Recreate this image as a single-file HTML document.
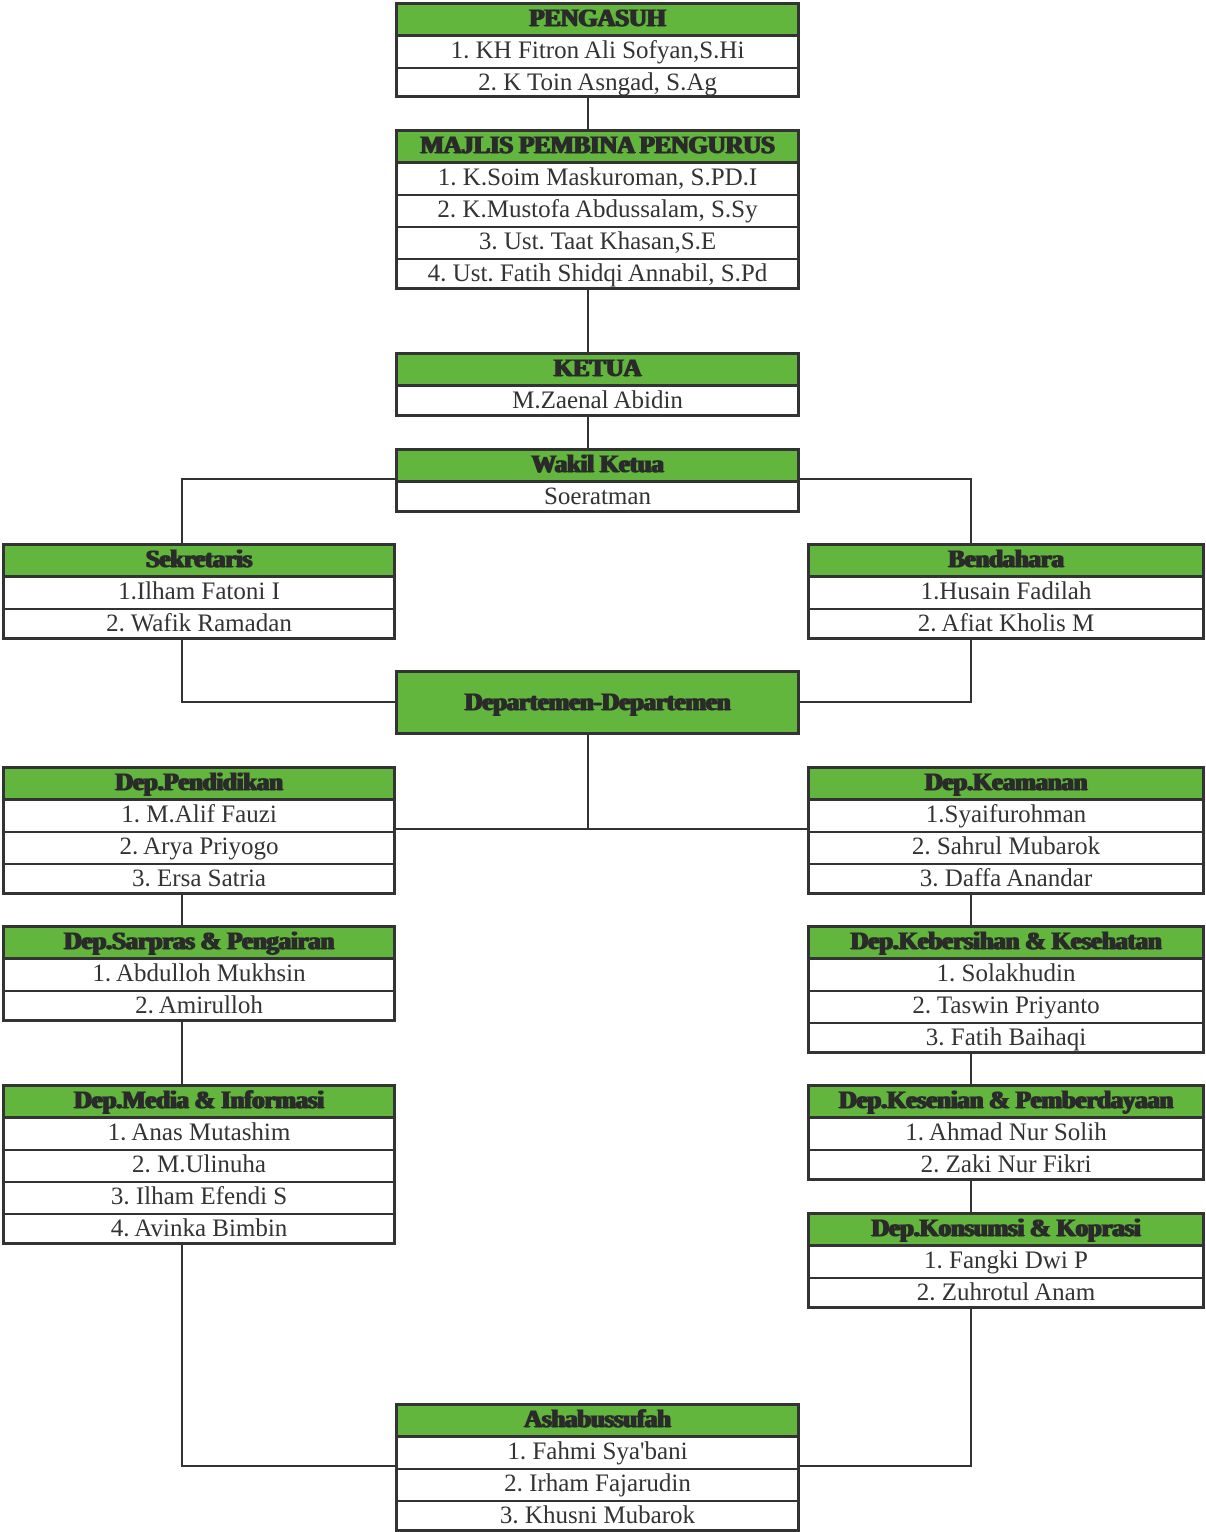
<!DOCTYPE html>
<html><head><meta charset="utf-8"><style>
body{margin:0;width:1206px;height:1532px;background:#fff;position:relative;overflow:hidden;font-family:"Liberation Serif",serif;}
.b{position:absolute;border:3px solid #333;box-sizing:border-box;background:#fff;}
.b div{height:32px;line-height:28px;text-align:center;font-size:25px;color:#333;border-top:2px solid #333;box-sizing:border-box;white-space:nowrap;overflow:hidden;}
.b div:first-child{border-top:none;height:30px;line-height:28px;}
.b div.h{background:#62b63e;font-weight:bold;color:#2a2a2a;font-size:25px;letter-spacing:-0.3px;text-shadow:1px 0 #2a2a2a,-1px 0 #2a2a2a,0 0.6px #2a2a2a;border-bottom:1px solid #333;}
.l{position:absolute;background:#333;}
.v{width:2px}.hz{height:2px}
.c{left:395px;width:405px}.L{left:2px;width:394px}.R{left:807px;width:398px}
</style></head><body>
<div class="l v" style="left:587px;top:96px;height:34px"></div>
<div class="l v" style="left:587px;top:288px;height:65px"></div>
<div class="l v" style="left:587px;top:415px;height:34px"></div>
<div class="l hz" style="left:181px;top:478px;width:791px"></div>
<div class="l v" style="left:181px;top:478px;height:66px"></div>
<div class="l v" style="left:970px;top:478px;height:66px"></div>
<div class="l v" style="left:181px;top:638px;height:64px"></div>
<div class="l hz" style="left:181px;top:701px;width:215px"></div>
<div class="l v" style="left:970px;top:638px;height:64px"></div>
<div class="l hz" style="left:798px;top:701px;width:174px"></div>
<div class="l v" style="left:587px;top:733px;height:97px"></div>
<div class="l hz" style="left:394px;top:828px;width:414px"></div>
<div class="l v" style="left:181px;top:893px;height:33px"></div>
<div class="l v" style="left:181px;top:1020px;height:65px"></div>
<div class="l v" style="left:181px;top:1243px;height:224px"></div>
<div class="l hz" style="left:181px;top:1465px;width:215px"></div>
<div class="l v" style="left:970px;top:893px;height:33px"></div>
<div class="l v" style="left:970px;top:1052px;height:33px"></div>
<div class="l v" style="left:970px;top:1179px;height:34px"></div>
<div class="l v" style="left:970px;top:1307px;height:160px"></div>
<div class="l hz" style="left:798px;top:1465px;width:174px"></div>

<div class="b c" style="top:2px;height:96px"><div class="h">PENGASUH</div><div>1. KH Fitron Ali Sofyan,S.Hi</div><div>2. K Toin Asngad, S.Ag</div></div>
<div class="b c" style="top:129px;height:161px"><div class="h">MAJLIS PEMBINA PENGURUS</div><div>1. K.Soim Maskuroman, S.PD.I</div><div>2. K.Mustofa Abdussalam, S.Sy</div><div>3. Ust. Taat Khasan,S.E</div><div>4. Ust. Fatih Shidqi Annabil, S.Pd</div></div>
<div class="b c" style="top:352px;height:65px"><div class="h">KETUA</div><div>M.Zaenal Abidin</div></div>
<div class="b c" style="top:448px;height:65px"><div class="h">Wakil Ketua</div><div>Soeratman</div></div>
<div class="b L" style="top:543px;height:97px"><div class="h">Sekretaris</div><div>1.Ilham Fatoni I</div><div>2. Wafik Ramadan</div></div>
<div class="b R" style="top:543px;height:97px"><div class="h">Bendahara</div><div>1.Husain Fadilah</div><div>2. Afiat Kholis M</div></div>
<div class="b c" style="top:670px;height:65px;background:#62b63e"><div class="h" style="height:59px;line-height:59px;border:none">Departemen-Departemen</div></div>
<div class="b L" style="top:766px;height:129px"><div class="h">Dep.Pendidikan</div><div>1. M.Alif Fauzi</div><div>2. Arya Priyogo</div><div>3. Ersa Satria</div></div>
<div class="b R" style="top:766px;height:129px"><div class="h">Dep.Keamanan</div><div>1.Syaifurohman</div><div>2. Sahrul Mubarok</div><div>3. Daffa Anandar</div></div>
<div class="b L" style="top:925px;height:97px"><div class="h">Dep.Sarpras &amp; Pengairan</div><div>1. Abdulloh Mukhsin</div><div>2. Amirulloh</div></div>
<div class="b R" style="top:925px;height:129px"><div class="h">Dep.Kebersihan &amp; Kesehatan</div><div>1. Solakhudin</div><div>2. Taswin Priyanto</div><div>3. Fatih Baihaqi</div></div>
<div class="b L" style="top:1084px;height:161px"><div class="h">Dep.Media &amp; Informasi</div><div>1. Anas Mutashim</div><div>2. M.Ulinuha</div><div>3. Ilham Efendi S</div><div>4. Avinka Bimbin</div></div>
<div class="b R" style="top:1084px;height:97px"><div class="h">Dep.Kesenian &amp; Pemberdayaan</div><div>1. Ahmad Nur Solih</div><div>2. Zaki Nur Fikri</div></div>
<div class="b R" style="top:1212px;height:97px"><div class="h">Dep.Konsumsi &amp; Koprasi</div><div>1. Fangki Dwi P</div><div>2. Zuhrotul Anam</div></div>
<div class="b c" style="top:1403px;height:129px"><div class="h">Ashabussufah</div><div>1. Fahmi Sya'bani</div><div>2. Irham Fajarudin</div><div>3. Khusni Mubarok</div></div>
</body></html>
